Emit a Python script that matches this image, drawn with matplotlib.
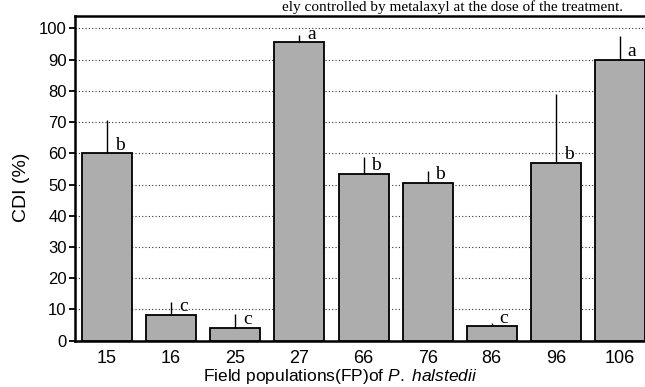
import numpy as np
import matplotlib
matplotlib.use("Agg")
import matplotlib.pyplot as plt

# data
populations = ["15", "16", "25", "27", "66", "76", "86", "96", "106"]
cdi = [60, 8.2, 4.1, 95.5, 53.5, 50.6, 4.6, 57, 90]
cdi_err = [10.6, 4.2, 4.5, 2.4, 5.4, 3.8, 1.0, 22, 7.6]
groups = ["b", "c", "c", "a", "b", "b", "c", "b", "a"]
yticks = [0, 10, 20, 30, 40, 50, 60, 70, 80, 90, 100]

plt.rcParams['font.family'] = ['Liberation Sans', 'DejaVu Sans']
plt.rcParams['mathtext.fontset'] = 'custom'
plt.rcParams['mathtext.rm'] = 'Liberation Sans'
plt.rcParams['mathtext.it'] = 'Liberation Sans:italic'

fig = plt.figure(figsize=(6.45, 3.87), dpi=100)
ax = fig.add_axes([75 / 645, 1 - 340.7 / 387, 570 / 645, (340.7 - 15.5) / 387])

x = np.arange(len(populations))
ax.bar(x, cdi, width=0.78, color='#adadad', edgecolor='black', linewidth=1.3, zorder=3)
ax.errorbar(x, cdi, yerr=[np.zeros(len(cdi)), cdi_err], fmt='none',
            ecolor='black', elinewidth=1.0, capsize=0, zorder=4)

for xi, m, g in zip(x, cdi, groups):
    ax.text(xi + 0.12, m + 1.2, g, ha='left', va='baseline', fontsize=14,
            family='Liberation Serif', zorder=5)

ax.set_xlim(-0.5, 8.39)
ax.set_ylim(0, 104.1)
ax.set_yticks(yticks)
ax.set_xticks(x)
ax.set_xticklabels(populations)
ax.tick_params(axis='y', length=4, width=1.3, labelsize=12, pad=2)
ax.tick_params(axis='x', length=0, labelsize=13, pad=7)

for y in yticks[1:]:
    ax.axhline(y, color='#333333', linestyle=(0, (1, 2)), linewidth=0.8, zorder=1)

ax.spines['right'].set_visible(False)
for s in ['left', 'bottom', 'top']:
    ax.spines[s].set_linewidth(1.8)

fig.text(22 / 645, 1 - 187 / 387, "CDI (%)", rotation=90, ha='center', va='center', fontsize=14)
fig.text(340 / 645, 1 - 377 / 387, "Field populations(FP)of $\\it{P.\\ halstedii}$",
         ha='center', va='center', fontsize=12.5)

fig.text(623 / 645, 1 - 11 / 387, "ely controlled by metalaxyl at the dose of the treatment.",
         ha='right', va='baseline', fontsize=11, family='Liberation Serif')

fig.savefig("out.png", dpi=100)
